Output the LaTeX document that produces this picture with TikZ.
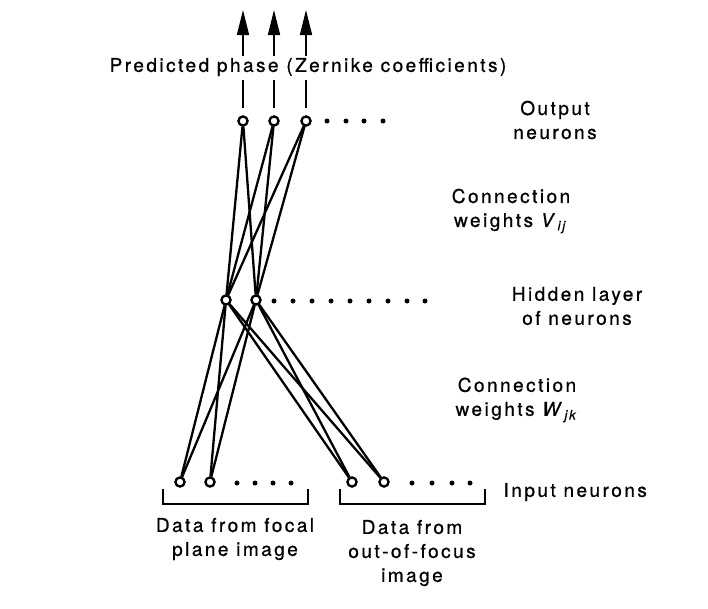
\documentclass[tikz,border=0pt]{standalone}
\usepackage{fontspec}
\setmainfont{TeX Gyre Heros}[LetterSpace=13,FakeBold=0.8]
\usetikzlibrary{arrows.meta}
\begin{document}
\begin{tikzpicture}[x=1pt,y=-1pt,
  neuron/.style={circle,draw,line width=2.2pt,fill=white,inner sep=0pt,minimum size=9pt},
  conn/.style={line width=2.3pt},
  dotc/.style={circle,fill,inner sep=0pt,minimum size=5pt},
  lbl/.style={font=\fontsize{19}{24}\selectfont,align=center},
  brk/.style={line width=1.6pt}]
\useasboundingbox (0,0) rectangle (708,608);
% neurons
\node[neuron] (o1) at (243,121) {};
\node[neuron] (o2) at (274,121) {};
\node[neuron] (o3) at (306,121) {};
\node[neuron] (h1) at (226,300) {};
\node[neuron] (h2) at (256,300) {};
\node[neuron] (i1) at (180,482) {};
\node[neuron] (i2) at (210,482) {};
\node[neuron] (i3) at (352,482) {};
\node[neuron] (i4) at (384,482) {};
% connections
\foreach \h in {h1,h2}{
  \foreach \o in {o1,o2,o3}{\draw[conn] (\h) -- (\o);}
  \foreach \i in {i1,i2,i3,i4}{\draw[conn] (\h) -- (\i);}
}
% redraw neurons on top
\foreach \x/\y in {243/121,274/121,306/121,226/300,256/300,180/482,210/482,352/482,384/482}{
  \node[neuron] at (\x,\y) {};
}
% dots
\foreach \x in {327,346,364,383}{\node[dotc] at (\x,121) {};}
\foreach \x in {274,293,312,331,350,369,388,407,425}{\node[dotc] at (\x,301) {};}
\foreach \x in {237,255,273,291}{\node[dotc] at (\x,483) {};}
\foreach \x in {412,432,452,470}{\node[dotc] at (\x,483) {};}
% output lines and arrows
\foreach \o/\x in {o1/243,o2/274,o3/306}{
  \coordinate (\o b) at (\x,108);
  \coordinate (\o l) at (\x,80);
  \draw[line width=1.6pt] (\o b) -- (\o l);
  \coordinate (\o s) at (\x,56);
  \coordinate (\o t) at (\x,10);
  \draw[line width=1.6pt,-{Triangle[length=25pt,width=12pt]}] (\o s) -- (\o t);
}
\node[lbl] (pp) at (308,67) {Predicted phase (Zernike coefficients)};
% brackets
\draw[brk] (163,489) -- (163,504) -- (308,504) -- (308,489);
\draw[brk] (340,489) -- (340,504) -- (485,504) -- (485,489);
% labels
\node[lbl] (lo) at (555,120) {Output\\neurons};
\node[lbl] (lv) at (511,211) {Connection\\weights \textit{V}\textsubscript{\textit{ij}}};
\node[lbl] (lh) at (577,306) {Hidden layer\\of neurons};
\node[lbl] (lw) at (517,400) {Connection\\weights \textit{W}\textsubscript{\textit{jk}}};
\node[lbl,anchor=west] (li) at (500,492) {Input neurons};
\node[lbl] (lf) at (235,539) {Data from focal\\plane image};
\node[lbl] (lo2) at (412,553) {Data from\\out-of-focus\\image};
\end{tikzpicture}
\end{document}
